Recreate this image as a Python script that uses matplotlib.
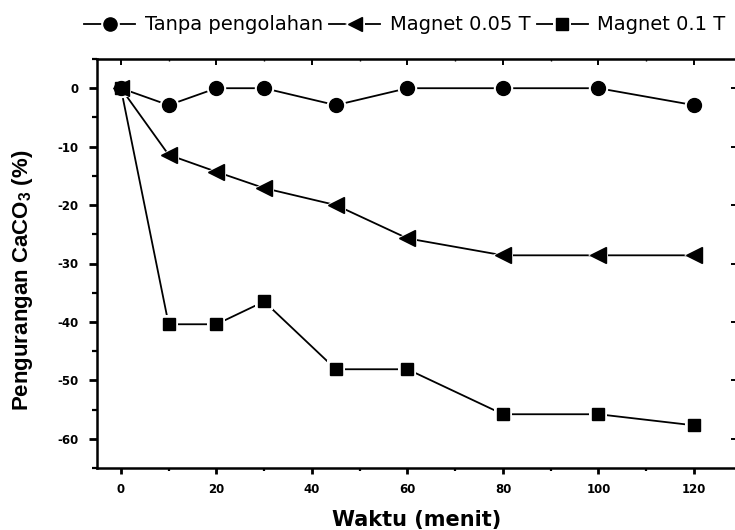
import matplotlib
matplotlib.use("Agg")
import matplotlib.pyplot as plt
from matplotlib.lines import Line2D
from matplotlib.legend_handler import HandlerTuple
from matplotlib.ticker import MultipleLocator

plt.rcParams['font.family'] = ['DejaVu Sans']
plt.rcParams['axes.unicode_minus'] = False
plt.rcParams['mathtext.fontset'] = 'custom'
plt.rcParams['mathtext.bf'] = 'Liberation Sans:bold'
plt.rcParams['mathtext.rm'] = 'Liberation Sans:bold'

waktu = [0, 10, 20, 30, 45, 60, 80, 100, 120]
tanpa = [0, -2.9, 0, 0, -2.9, 0, 0, 0, -2.9]
magnet005 = [0, -11.4, -14.3, -17.1, -20.0, -25.7, -28.6, -28.6, -28.6]
magnet01 = [0, -40.4, -40.4, -36.5, -48.1, -48.1, -55.8, -55.8, -57.7]

fig = plt.figure(figsize=(7.35, 5.3), dpi=100)
ax = fig.add_axes([97 / 735, 1 - 468 / 530, (737 - 97) / 735, (468 - 59) / 530])

series = [
    (tanpa, 'o', 10, 'Tanpa pengolahan'),
    (magnet005, '<', 11, 'Magnet 0.05 T'),
    (magnet01, 's', 9, 'Magnet 0.1 T'),
]
handles = []
labels = []
for vals, mk, ms, name in series:
    # line, then a white halo round each symbol so the line stops short of it
    ax.plot(waktu, vals, '-', color='black', lw=1.3, zorder=2)
    ax.plot(waktu, vals, mk, color='white', ms=ms + 4, mew=0, zorder=3)
    ax.plot(waktu, vals, mk, color='black', ms=ms, zorder=4)
    handles.append((Line2D([], [], color='black', lw=1.3),
                    Line2D([], [], marker=mk, ls='none', color='white', ms=ms * 0.95 + 4, mew=0),
                    Line2D([], [], marker=mk, ls='none', color='black', ms=ms * 0.95)))
    labels.append(name)

ax.set_xlim(-5, 129)
ax.set_ylim(-65, 5)
ax.xaxis.set_major_locator(MultipleLocator(20))
ax.xaxis.set_minor_locator(MultipleLocator(10))
ax.yaxis.set_major_locator(MultipleLocator(10))
ax.yaxis.set_minor_locator(MultipleLocator(5))

for s in ax.spines.values():
    s.set_linewidth(1.8)
ax.tick_params(axis='x', which='major', direction='out', length=4, width=2, labelsize=8.5, pad=7)
ax.tick_params(axis='x', which='minor', direction='out', length=2.5, width=1.6)
ax.tick_params(axis='y', which='major', direction='out', length=5.5, width=2, labelsize=8.5, pad=8)
ax.tick_params(axis='y', which='minor', direction='out', length=3.5, width=1.6)
for lab in ax.get_xticklabels() + ax.get_yticklabels():
    lab.set_fontweight('bold')

# inward ticks on top and right
top = ax.secondary_xaxis('top')
top.xaxis.set_major_locator(MultipleLocator(20))
top.xaxis.set_minor_locator(MultipleLocator(10))
top.tick_params(which='major', direction='in', length=4, width=1.4, labeltop=False)
top.tick_params(which='minor', direction='in', length=1.5, width=1.0)
right = ax.secondary_yaxis('right')
right.yaxis.set_major_locator(MultipleLocator(10))
right.yaxis.set_minor_locator(MultipleLocator(100))
right.tick_params(which='major', direction='in', length=4, width=1.4, labelright=False)

ax.set_xlabel('Waktu (menit)', fontsize=15, fontweight='bold')
ax.xaxis.set_label_coords(0.5, -(520 - 468) / 409)
ax.xaxis.label.set_va('center')
ax.set_ylabel('Pengurangan CaCO$_{\\mathbf{3}}$ (%)', fontsize=16, fontweight='bold',
              family='Liberation Sans')
ax.yaxis.set_label_coords((23 - 97) / 640, (468 - 280) / 409)
ax.yaxis.label.set_va('center')

fig.legend(handles, labels, handler_map={tuple: HandlerTuple(ndivide=1)},
           loc='center', bbox_to_anchor=(405 / 735, 1 - 25 / 530), ncol=3, frameon=False,
           fontsize=14, handlelength=2.6, handletextpad=0.5, columnspacing=0.35,
           borderaxespad=0, borderpad=0)

fig.savefig('out.png', dpi=100)
